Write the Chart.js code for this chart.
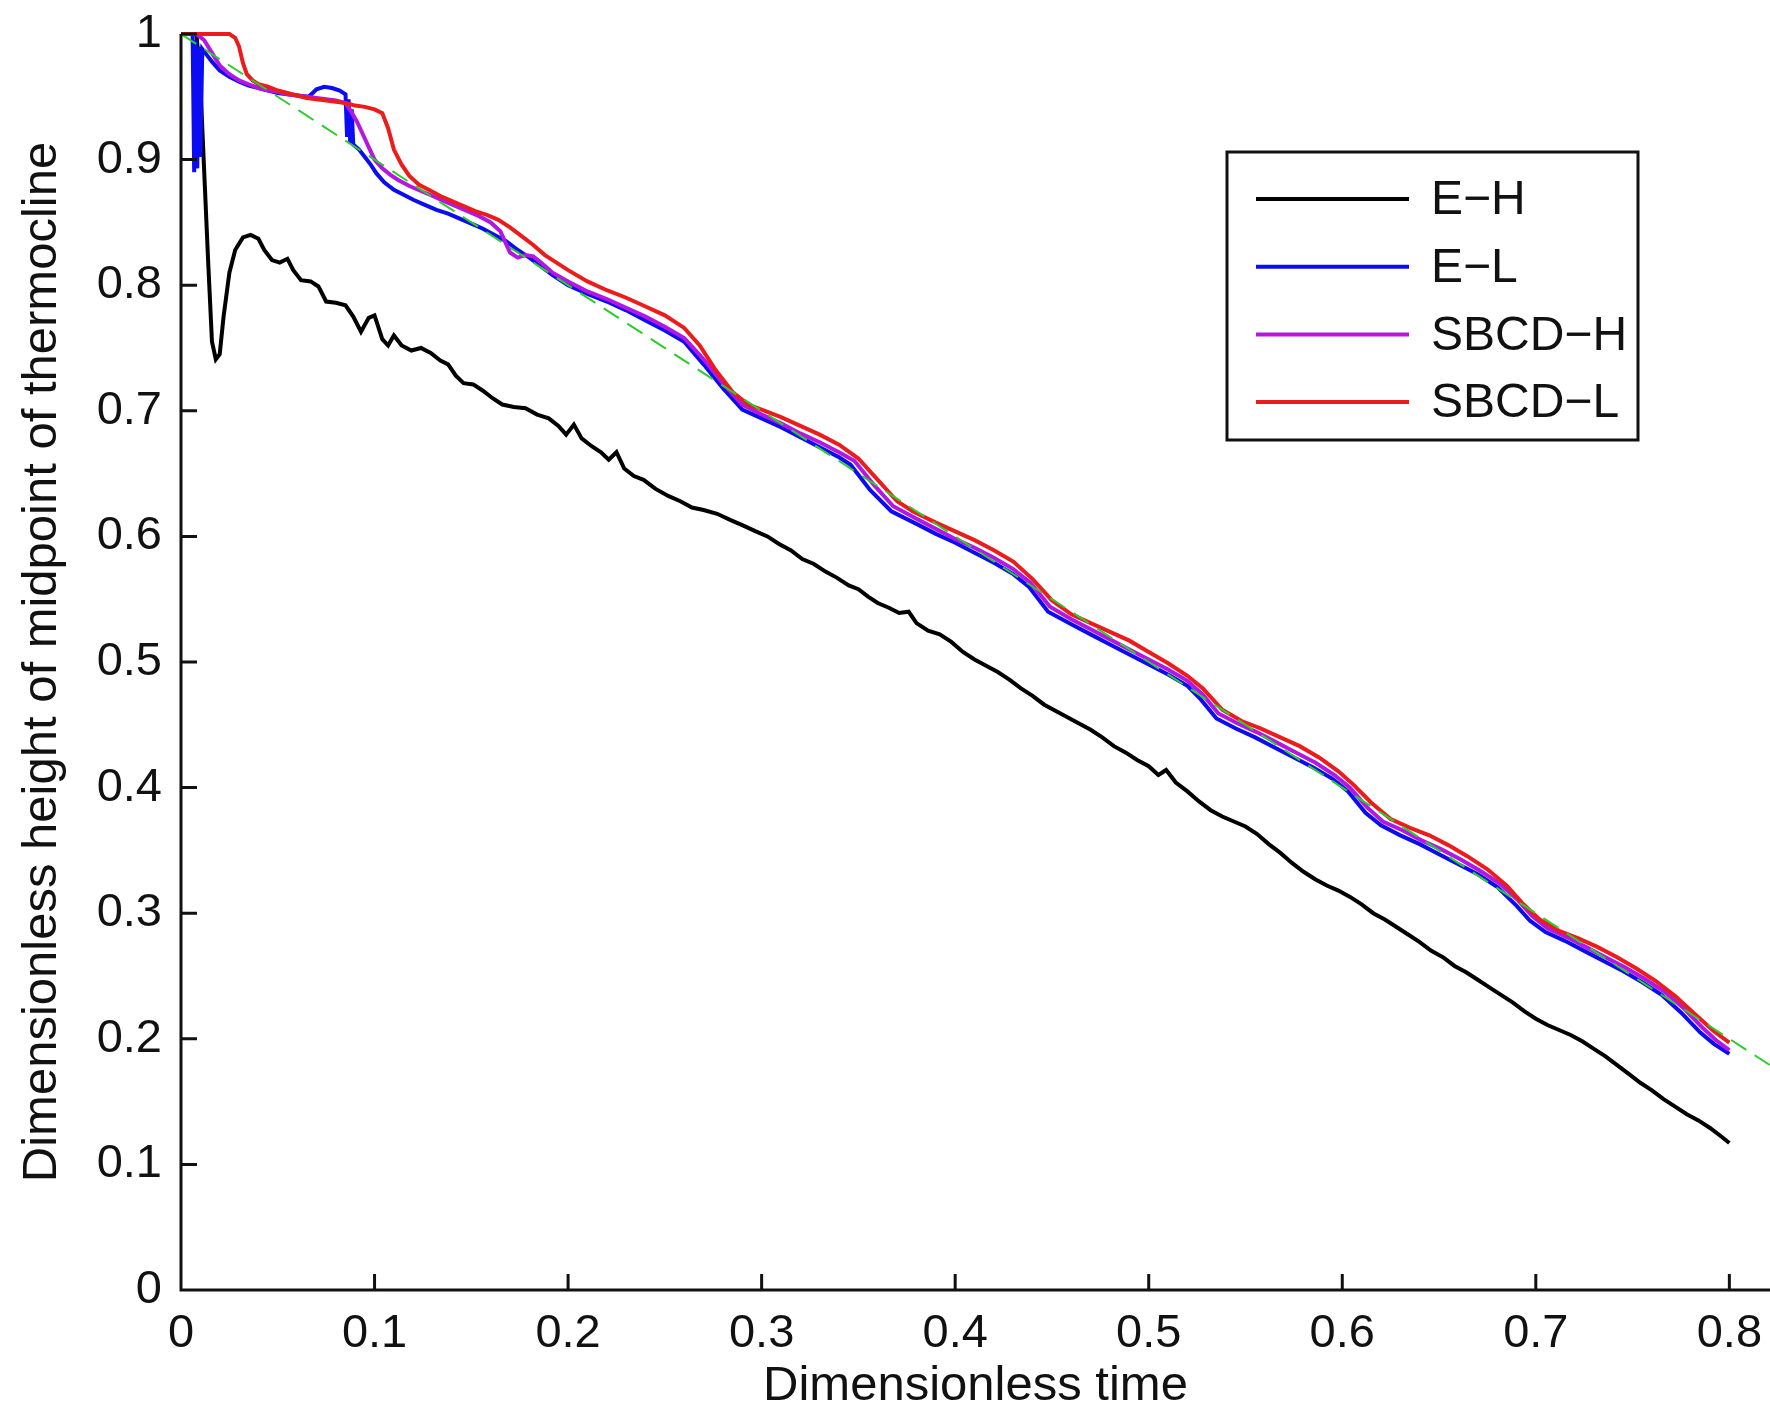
<!DOCTYPE html>
<html>
<head>
<meta charset="utf-8">
<title>Thermocline midpoint height</title>
<script src="https://cdn.jsdelivr.net/npm/chart.js@4.4.1/dist/chart.umd.min.js"></script>
<style>
    html, body { margin: 0; padding: 0; background: #fff; }
    canvas { display: block; }
</style>
</head>
<body>
<canvas id="chart-thermocline" width="1770" height="1416"></canvas>
<script>
// tick labels
const xTicks = [0, 0.1, 0.2, 0.3, 0.4, 0.5, 0.6, 0.7, 0.8];
const yTicks = [0, 0.1, 0.2, 0.3, 0.4, 0.5, 0.6, 0.7, 0.8, 0.9, 1];

// E-H (black)
const ehT = [0, 0.008, 0.010, 0.012, 0.014, 0.016, 0.018, 0.020, 0.022, 0.025, 0.028, 0.032, 0.036, 0.040, 0.043, 0.047,
    0.051, 0.055, 0.058, 0.062, 0.067, 0.071, 0.075, 0.080, 0.085, 0.089, 0.093, 0.097, 0.100, 0.104, 0.107, 0.110,
    0.114, 0.119, 0.124, 0.129, 0.134, 0.138, 0.142, 0.146, 0.151, 0.156, 0.161, 0.166, 0.172, 0.178, 0.184, 0.190,
    0.195, 0.199, 0.203, 0.207, 0.212, 0.217, 0.221, 0.225, 0.229, 0.234, 0.239, 0.245, 0.252, 0.258, 0.264, 0.270,
    0.277, 0.284, 0.290, 0.297, 0.303, 0.309, 0.315, 0.321, 0.327, 0.333, 0.339, 0.345, 0.350, 0.355, 0.360, 0.366,
    0.371, 0.376, 0.380, 0.386, 0.392, 0.398, 0.404, 0.410, 0.416, 0.422, 0.428, 0.434, 0.440, 0.446, 0.452, 0.458,
    0.464, 0.470, 0.476, 0.482, 0.488, 0.494, 0.500, 0.505, 0.509, 0.514, 0.520, 0.526, 0.532, 0.538, 0.544, 0.550,
    0.556, 0.562, 0.568, 0.574, 0.580, 0.586, 0.592, 0.598, 0.604, 0.610, 0.616, 0.622, 0.628, 0.634, 0.640, 0.646,
    0.652, 0.658, 0.664, 0.670, 0.676, 0.682, 0.688, 0.694, 0.700, 0.706, 0.712, 0.718, 0.724, 0.730, 0.736, 0.742,
    0.748, 0.754, 0.760, 0.766, 0.772, 0.778, 0.784, 0.790, 0.796, 0.800];
const ehH = [1.000, 1.000, 0.960, 0.890, 0.820, 0.755, 0.741, 0.745, 0.775, 0.810, 0.828, 0.838, 0.840, 0.837, 0.828, 0.820,
    0.818, 0.821, 0.812, 0.804, 0.803, 0.799, 0.787, 0.786, 0.784, 0.775, 0.763, 0.774, 0.776, 0.757, 0.752, 0.760,
    0.752, 0.748, 0.750, 0.746, 0.740, 0.737, 0.728, 0.722, 0.721, 0.716, 0.710, 0.705, 0.703, 0.702, 0.697, 0.694,
    0.688, 0.681, 0.689, 0.678, 0.672, 0.667, 0.661, 0.667, 0.654, 0.648, 0.645, 0.638, 0.632, 0.628, 0.623, 0.621,
    0.618, 0.613, 0.609, 0.604, 0.600, 0.594, 0.589, 0.582, 0.578, 0.572, 0.567, 0.561, 0.558, 0.552, 0.547, 0.543,
    0.539, 0.540, 0.531, 0.525, 0.522, 0.516, 0.508, 0.502, 0.497, 0.492, 0.486, 0.479, 0.473, 0.466, 0.461, 0.456,
    0.451, 0.446, 0.440, 0.433, 0.428, 0.422, 0.417, 0.410, 0.414, 0.404, 0.397, 0.389, 0.382, 0.377, 0.373, 0.369,
    0.363, 0.355, 0.348, 0.340, 0.333, 0.327, 0.322, 0.318, 0.313, 0.307, 0.300, 0.295, 0.289, 0.283, 0.277, 0.270,
    0.265, 0.258, 0.253, 0.247, 0.241, 0.235, 0.229, 0.222, 0.216, 0.211, 0.207, 0.203, 0.198, 0.192, 0.186, 0.179,
    0.172, 0.165, 0.159, 0.152, 0.146, 0.140, 0.135, 0.129, 0.122, 0.117];

// E-L (blue)
const elT = [0, 0.006, 0.0068, 0.0076, 0.0084, 0.0092, 0.010, 0.011, 0.013, 0.016, 0.020, 0.025, 0.030, 0.035, 0.040, 0.045,
    0.050, 0.055, 0.060, 0.066, 0.070, 0.074, 0.078, 0.082, 0.085, 0.0858, 0.0866, 0.0874, 0.0882, 0.089, 0.092, 0.095,
    0.098, 0.101, 0.105, 0.110, 0.115, 0.120, 0.126, 0.132, 0.138, 0.144, 0.150, 0.156, 0.162, 0.168, 0.174, 0.180,
    0.186, 0.192, 0.200, 0.210, 0.220, 0.230, 0.240, 0.250, 0.260, 0.270, 0.280, 0.290, 0.300, 0.310, 0.320, 0.330,
    0.340, 0.346, 0.356, 0.367, 0.380, 0.390, 0.400, 0.410, 0.420, 0.430, 0.438, 0.448, 0.460, 0.470, 0.480, 0.490,
    0.500, 0.510, 0.520, 0.527, 0.535, 0.545, 0.555, 0.565, 0.575, 0.585, 0.595, 0.603, 0.612, 0.620, 0.630, 0.640,
    0.650, 0.660, 0.670, 0.680, 0.690, 0.697, 0.705, 0.715, 0.725, 0.735, 0.745, 0.755, 0.765, 0.775, 0.785, 0.792,
    0.800];
const elH = [1.000, 1.000, 0.890, 0.995, 0.893, 0.990, 0.902, 0.988, 0.984, 0.978, 0.971, 0.966, 0.962, 0.959, 0.957, 0.955,
    0.953, 0.952, 0.951, 0.950, 0.956, 0.958, 0.957, 0.955, 0.952, 0.918, 0.948, 0.913, 0.940, 0.912, 0.908, 0.902,
    0.896, 0.889, 0.882, 0.876, 0.872, 0.868, 0.864, 0.860, 0.857, 0.853, 0.849, 0.845, 0.840, 0.835, 0.828, 0.822,
    0.815, 0.808, 0.800, 0.793, 0.787, 0.780, 0.772, 0.764, 0.755, 0.737, 0.718, 0.701, 0.694, 0.687, 0.679, 0.671,
    0.663, 0.657, 0.637, 0.620, 0.610, 0.602, 0.595, 0.587, 0.579, 0.570, 0.560, 0.540, 0.530, 0.522, 0.514, 0.506,
    0.498, 0.490, 0.481, 0.470, 0.455, 0.447, 0.440, 0.432, 0.424, 0.416, 0.407, 0.397, 0.380, 0.370, 0.362, 0.355,
    0.347, 0.339, 0.331, 0.321, 0.306, 0.294, 0.285, 0.278, 0.270, 0.262, 0.254, 0.245, 0.235, 0.221, 0.205, 0.196,
    0.188];

// SBCD-H (magenta)
const shT = [0, 0.008, 0.012, 0.016, 0.020, 0.025, 0.030, 0.035, 0.040, 0.045, 0.050, 0.055, 0.060, 0.065, 0.070, 0.075,
    0.080, 0.085, 0.088, 0.091, 0.094, 0.097, 0.100, 0.104, 0.108, 0.112, 0.118, 0.124, 0.130, 0.136, 0.142, 0.148,
    0.154, 0.160, 0.165, 0.170, 0.174, 0.178, 0.182, 0.186, 0.192, 0.200, 0.210, 0.220, 0.230, 0.240, 0.250, 0.260,
    0.270, 0.280, 0.290, 0.300, 0.310, 0.320, 0.330, 0.340, 0.348, 0.358, 0.368, 0.380, 0.390, 0.400, 0.410, 0.420,
    0.430, 0.439, 0.449, 0.460, 0.470, 0.480, 0.490, 0.500, 0.510, 0.520, 0.528, 0.536, 0.546, 0.556, 0.566, 0.576,
    0.586, 0.596, 0.604, 0.613, 0.621, 0.631, 0.641, 0.651, 0.661, 0.671, 0.681, 0.691, 0.698, 0.706, 0.716, 0.726,
    0.736, 0.746, 0.756, 0.766, 0.776, 0.786, 0.793, 0.800];
const shH = [1.000, 1.000, 0.995, 0.985, 0.975, 0.968, 0.963, 0.960, 0.957, 0.955, 0.954, 0.952, 0.951, 0.950, 0.949, 0.948,
    0.947, 0.945, 0.938, 0.930, 0.920, 0.910, 0.900, 0.893, 0.888, 0.884, 0.879, 0.875, 0.871, 0.867, 0.863, 0.859,
    0.855, 0.850, 0.843, 0.826, 0.822, 0.824, 0.823, 0.818, 0.810, 0.803, 0.795, 0.789, 0.782, 0.775, 0.767, 0.758,
    0.741, 0.722, 0.705, 0.697, 0.690, 0.682, 0.675, 0.667, 0.660, 0.641, 0.624, 0.614, 0.606, 0.598, 0.591, 0.583,
    0.574, 0.563, 0.544, 0.534, 0.526, 0.518, 0.510, 0.502, 0.494, 0.485, 0.474, 0.459, 0.451, 0.444, 0.436, 0.428,
    0.420, 0.410, 0.400, 0.384, 0.373, 0.366, 0.358, 0.351, 0.343, 0.334, 0.324, 0.310, 0.298, 0.288, 0.281, 0.273,
    0.265, 0.257, 0.248, 0.238, 0.225, 0.209, 0.199, 0.191];

// SBCD-L (red)
const slT = [0, 0.010, 0.020, 0.025, 0.028, 0.030, 0.032, 0.034, 0.037, 0.040, 0.045, 0.050, 0.055, 0.060, 0.065, 0.070,
    0.075, 0.080, 0.085, 0.090, 0.095, 0.100, 0.104, 0.107, 0.110, 0.114, 0.118, 0.123, 0.128, 0.134, 0.140, 0.146,
    0.152, 0.158, 0.164, 0.170, 0.176, 0.182, 0.188, 0.194, 0.200, 0.210, 0.220, 0.230, 0.240, 0.250, 0.260, 0.268,
    0.276, 0.285, 0.293, 0.300, 0.310, 0.320, 0.330, 0.340, 0.350, 0.360, 0.370, 0.378, 0.390, 0.400, 0.410, 0.420,
    0.430, 0.440, 0.450, 0.460, 0.470, 0.480, 0.490, 0.500, 0.510, 0.520, 0.528, 0.538, 0.548, 0.558, 0.568, 0.578,
    0.588, 0.598, 0.606, 0.615, 0.625, 0.635, 0.645, 0.655, 0.665, 0.675, 0.685, 0.693, 0.702, 0.712, 0.722, 0.732,
    0.742, 0.752, 0.762, 0.772, 0.782, 0.792, 0.800];
const slH = [1.000, 1.000, 1.000, 1.000, 0.997, 0.990, 0.977, 0.968, 0.963, 0.960, 0.958, 0.955, 0.953, 0.951, 0.949, 0.948,
    0.947, 0.946, 0.945, 0.943, 0.942, 0.940, 0.937, 0.925, 0.908, 0.896, 0.887, 0.880, 0.876, 0.871, 0.867, 0.863,
    0.859, 0.856, 0.852, 0.846, 0.839, 0.832, 0.824, 0.818, 0.812, 0.803, 0.796, 0.790, 0.783, 0.776, 0.766, 0.752,
    0.733, 0.715, 0.705, 0.701, 0.695, 0.688, 0.681, 0.673, 0.662, 0.645, 0.628, 0.620, 0.611, 0.604, 0.597, 0.589,
    0.580, 0.566, 0.549, 0.538, 0.531, 0.524, 0.517, 0.508, 0.499, 0.489, 0.479, 0.462, 0.453, 0.447, 0.440, 0.433,
    0.424, 0.413, 0.402, 0.388, 0.375, 0.368, 0.362, 0.354, 0.345, 0.335, 0.322, 0.308, 0.295, 0.286, 0.280, 0.273,
    0.265, 0.256, 0.246, 0.234, 0.220, 0.206, 0.197];

// reference line (green dashed, not in legend)
const refT = [0, 0.83];
const refH = [1, 0.17];

(function () {
    'use strict';

    const FONT = "'Liberation Sans', Arial, Helvetica, sans-serif";

    function toPoints(ts, hs) {
        return ts.map((t, i) => ({ x: t, y: hs[i] }));
    }

    function fmt(v) {
        return Number(v.toFixed(2)).toString();
    }

    // Matlab-style axes: left and bottom lines with inward ticks
    const axesPlugin = {
        id: 'matlabAxes',
        afterDatasetsDraw(chart) {
            const { ctx, chartArea: a, scales: { x, y } } = chart;
            ctx.save();
            ctx.strokeStyle = '#111';
            ctx.lineWidth = 3;
            ctx.beginPath();
            ctx.moveTo(a.left, a.top);
            ctx.lineTo(a.left, a.bottom);
            ctx.lineTo(chart.width, a.bottom);
            x.ticks.forEach(t => {
                const px = x.getPixelForValue(t.value);
                ctx.moveTo(px, a.bottom);
                ctx.lineTo(px, a.bottom - 16);
            });
            y.ticks.forEach(t => {
                const py = y.getPixelForValue(t.value);
                ctx.moveTo(a.left, py);
                ctx.lineTo(a.left + 16, py);
            });
            ctx.stroke();
            ctx.restore();
        }
    };

    // boxed legend inside the plot, upper right
    const legendPlugin = {
        id: 'boxLegend',
        afterDraw(chart) {
            const ctx = chart.ctx;
            const box = { left: 1227, top: 152, width: 411, height: 288 };
            const items = chart.data.datasets.filter(d => d.inLegend);
            ctx.save();
            ctx.fillStyle = '#fff';
            ctx.fillRect(box.left, box.top, box.width, box.height);
            ctx.strokeStyle = '#111';
            ctx.lineWidth = 3;
            ctx.strokeRect(box.left, box.top, box.width, box.height);
            ctx.font = '48px ' + FONT;
            ctx.textBaseline = 'middle';
            ctx.textAlign = 'left';
            items.forEach((d, i) => {
                const yy = box.top + 47 + i * 67.7;
                ctx.strokeStyle = d.borderColor;
                ctx.lineWidth = d.borderWidth;
                ctx.beginPath();
                ctx.moveTo(box.left + 29, yy);
                ctx.lineTo(box.left + 182, yy);
                ctx.stroke();
                ctx.fillStyle = '#111';
                ctx.fillText(d.label, box.left + 204, yy + 2);
            });
            ctx.restore();
        }
    };

    function series(label, ts, hs, color, order) {
        return {
            label: label,
            data: toPoints(ts, hs),
            borderColor: color,
            borderWidth: 4,
            pointRadius: 0,
            tension: 0,
            clip: false,
            order: order,
            inLegend: true
        };
    }

    function renderChart() {
        const cvs = document.getElementById('chart-thermocline');
        if (!cvs || !window.Chart) return;
        const datasets = [
            series('E\u2212H', ehT, ehH, '#000000', 5),
            series('E\u2212L', elT, elH, '#0c0cf4', 4),
            series('SBCD\u2212H', shT, shH, '#b418e0', 3),
            series('SBCD\u2212L', slT, slH, '#ec1c1c', 2),
            {
                label: 'reference',
                data: toPoints(refT, refH),
                borderColor: '#2ccc2c',
                borderWidth: 2,
                borderDash: [18, 10],
                pointRadius: 0,
                clip: false,
                order: 1,
                inLegend: false
            }
        ];
        new Chart(cvs, {
            type: 'line',
            data: { datasets },
            plugins: [axesPlugin, legendPlugin],
            options: {
                responsive: false,
                animation: false,
                events: [],
                layout: { padding: { top: 34, right: 0, bottom: 0, left: 0 } },
                plugins: {
                    legend: { display: false },
                    tooltip: { enabled: false }
                },
                scales: {
                    x: {
                        type: 'linear',
                        min: 0,
                        max: 0.821,
                        afterBuildTicks: s => { s.ticks = xTicks.map(v => ({ value: v })); },
                        afterFit: s => {
                            s.height = 126;
                            s.paddingLeft = 0;
                            s.paddingRight = 0;
                        },
                        grid: { display: false, drawTicks: false },
                        border: { display: false },
                        ticks: {
                            autoSkip: false,
                            maxRotation: 0,
                            padding: 16,
                            color: '#111',
                            font: { family: FONT, size: 47 },
                            callback: v => fmt(v)
                        },
                        title: {
                            display: true,
                            text: 'Dimensionless time',
                            color: '#111',
                            font: { family: FONT, size: 49, lineHeight: 1.2 },
                            padding: { top: 0, bottom: 0 }
                        }
                    },
                    y: {
                        type: 'linear',
                        min: 0,
                        max: 1,
                        afterBuildTicks: s => { s.ticks = yTicks.map(v => ({ value: v })); },
                        afterFit: s => {
                            s.width = 181;
                            s.paddingTop = 0;
                            s.paddingBottom = 0;
                        },
                        grid: { display: false, drawTicks: false },
                        border: { display: false },
                        ticks: {
                            padding: 19,
                            color: '#111',
                            font: { family: FONT, size: 47 },
                            callback: v => fmt(v)
                        },
                        title: {
                            display: true,
                            text: 'Dimensionless height of midpoint of thermocline',
                            color: '#111',
                            font: { family: FONT, size: 49, lineHeight: 1.2 },
                            padding: { top: 13, bottom: 0 }
                        }
                    }
                }
            }
        });
    }

    document.addEventListener('DOMContentLoaded', renderChart);
})();
</script>
</body>
</html>
